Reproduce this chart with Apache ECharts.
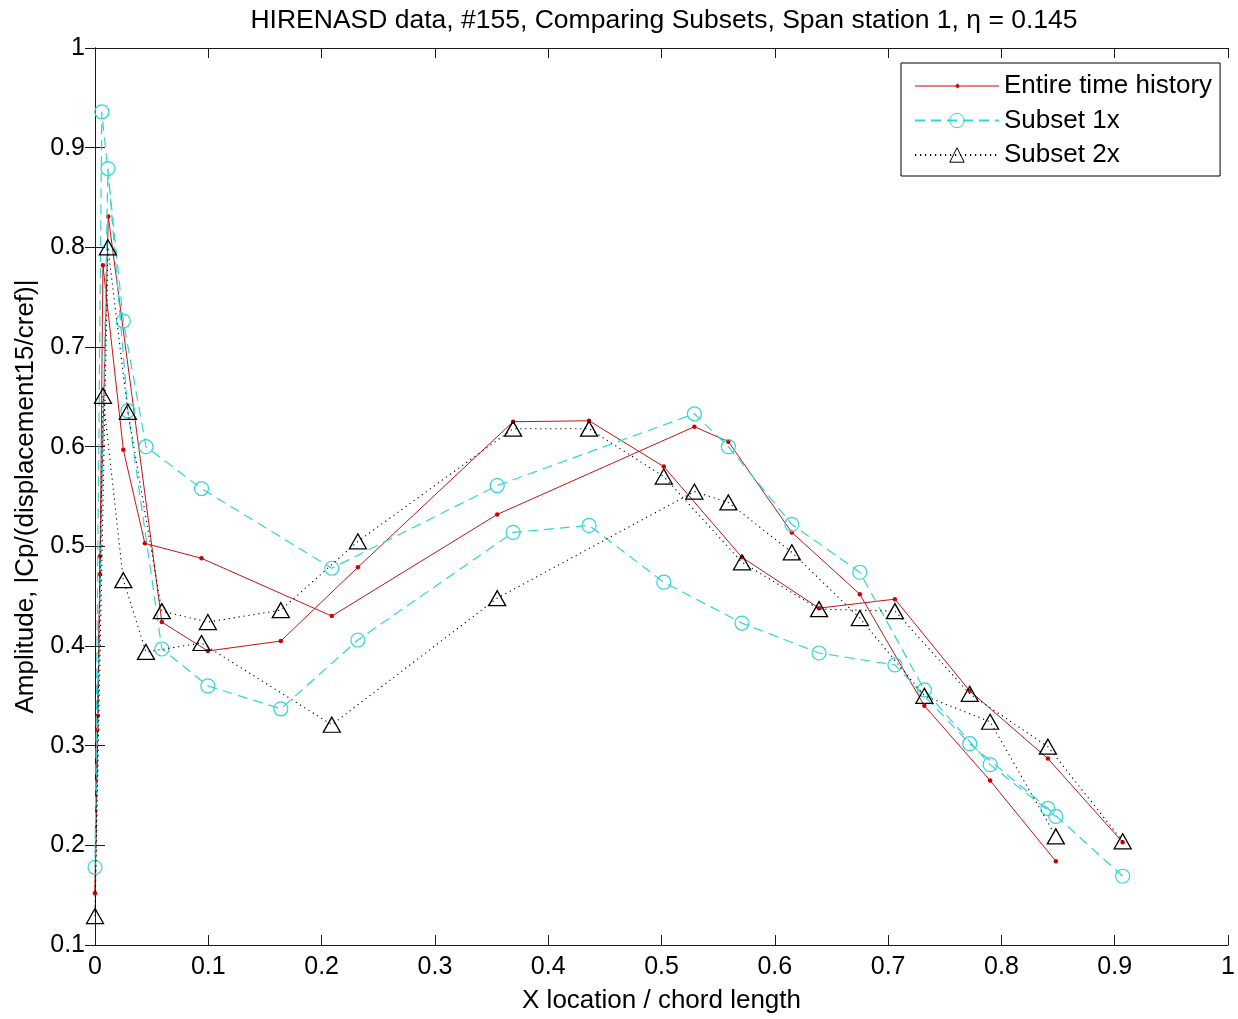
<!DOCTYPE html>
<html>
<head>
<meta charset="utf-8">
<title>HIRENASD data, #155, Comparing Subsets</title>
<script src="https://cdn.jsdelivr.net/npm/echarts@6/dist/echarts.min.js"></script>
<style>
  html, body { margin: 0; padding: 0; background: #fff; }
  #chart { width: 1238px; height: 1019px; }
</style>
</head>
<body>
<div id="chart"></div>
<script>
// Pressure-tap positions (x/c) and response amplitudes, listed along the airfoil
// contour: one surface from the trailing edge to the nose, then the other back out.
const entireX = [0.907, 0.841, 0.772, 0.706, 0.639, 0.571, 0.502, 0.436, 0.369, 0.232, 0.164, 0.0996, 0.059,
                 0.0117, 0.0044, 0.0025, 0, 0.002, 0.0044, 0.007,
                 0.025, 0.044, 0.094, 0.209, 0.355, 0.529, 0.559, 0.615, 0.675, 0.732, 0.790, 0.848];
const entireY = [0.203, 0.287, 0.355, 0.447, 0.438, 0.489, 0.580, 0.626, 0.625, 0.479, 0.405, 0.395, 0.424,
                 0.831, 0.490, 0.330, 0.152, 0.316, 0.472, 0.782,
                 0.597, 0.503, 0.488, 0.430, 0.532, 0.620, 0.605, 0.514, 0.452, 0.340, 0.265, 0.184];

const subset1X = [0.907, 0.841, 0.772, 0.706, 0.639, 0.571, 0.502, 0.436, 0.369, 0.232, 0.164, 0.0996, 0.059,
                  0.029, 0.0114, 0, 0.006,
                  0.025, 0.045, 0.094, 0.209, 0.355, 0.529, 0.559, 0.615, 0.675, 0.732, 0.790, 0.848];
const subset1Y = [0.169, 0.237, 0.302, 0.381, 0.393, 0.423, 0.464, 0.521, 0.514, 0.406, 0.337, 0.360, 0.397,
                  0.636, 0.879, 0.178, 0.936,
                  0.726, 0.600, 0.558, 0.478, 0.561, 0.633, 0.600, 0.522, 0.474, 0.356, 0.281, 0.229];

const subset2X = [0.907, 0.841, 0.772, 0.706, 0.639, 0.571, 0.502, 0.436, 0.369, 0.232, 0.164, 0.0996, 0.059,
                  0.029, 0.0114, 0, 0.007,
                  0.025, 0.045, 0.094, 0.209, 0.355, 0.529, 0.559, 0.615, 0.675, 0.732, 0.790, 0.848];
const subset2Y = [0.204, 0.299, 0.352, 0.435, 0.437, 0.484, 0.570, 0.618, 0.618, 0.505, 0.436, 0.424, 0.435,
                  0.635, 0.800, 0.129, 0.651,
                  0.466, 0.394, 0.403, 0.321, 0.448, 0.555, 0.544, 0.494, 0.428, 0.350, 0.324, 0.209];

const seriesNames = ['Entire time history', 'Subset 1x', 'Subset 2x'];
const titleText = 'HIRENASD data, #155, Comparing Subsets, Span station 1, \u03b7 = 0.145';
const xAxisName = 'X location / chord length';
const yAxisName = 'Amplitude, |Cp/(displacement15/cref)|';

const pairs = (xs, ys) => xs.map((x, i) => [x, ys[i]]);

const FONT = '"Liberation Sans", Arial, Helvetica, sans-serif';
const RED = '#d40000';
const CYAN = '#2fd6d6';
const AXIS = '#1a1a1a';

// Box-style axes: ticks pointing inward on all four sides.
function boxAxis(extra) {
  return Object.assign({
    type: 'value',
    axisLine: { show: true, lineStyle: { color: AXIS, width: 1 } },
    axisTick: { show: true, inside: true, length: 10, lineStyle: { color: AXIS, width: 1 } },
    splitLine: { show: false },
    axisLabel: { show: false }
  }, extra);
}

const tickLabel = { show: true, color: '#000', fontSize: 25, fontFamily: FONT, margin: 10 };

const chart = echarts.init(document.getElementById('chart'), null, { renderer: 'canvas' });

chart.setOption({
  animation: false,
  backgroundColor: '#fff',
  textStyle: { fontFamily: FONT },
  title: {
    text: titleText,
    left: 664,
    top: 7,
    textAlign: 'center',
    padding: 0,
    textStyle: { fontSize: 26.5, fontWeight: 'normal', color: '#000', fontFamily: FONT }
  },
  grid: { left: 95, right: 5, top: 48, bottom: 72, containLabel: false },
  xAxis: [
    boxAxis({
      min: 0, max: 1, interval: 0.1, position: 'bottom',
      axisLabel: tickLabel,
      name: xAxisName, nameLocation: 'middle', nameGap: 43,
      nameTextStyle: { fontSize: 26, color: '#000', fontFamily: FONT }
    }),
    boxAxis({ min: 0, max: 1, interval: 0.1, position: 'top' })
  ],
  yAxis: [
    boxAxis({
      min: 0.1, max: 1, interval: 0.1, position: 'left',
      axisLabel: tickLabel,
      name: yAxisName, nameLocation: 'middle', nameGap: 56,
      nameTextStyle: { fontSize: 26, color: '#000', fontFamily: FONT }
    }),
    boxAxis({ min: 0.1, max: 1, interval: 0.1, position: 'right' })
  ],
  legend: {
    orient: 'vertical',
    left: 901,
    top: 63,
    padding: [10, 8, 8, 13],
    itemGap: 8.5,
    itemWidth: 84,
    itemHeight: 18,
    backgroundColor: '#fff',
    borderColor: '#000',
    borderWidth: 1,
    borderRadius: 0,
    selectedMode: false,
    textStyle: { fontSize: 26, color: '#000', fontFamily: FONT },
    data: [
      {
        name: seriesNames[0],
        icon: 'path://M0,8.5H84V9.5H0Z M40,9L42.5,6.5L45,9L42.5,11.5Z',
        itemStyle: { color: RED, borderWidth: 0 }
      },
      { name: seriesNames[1], itemStyle: { borderWidth: 1, borderColor: CYAN } },
      { name: seriesNames[2], itemStyle: { borderWidth: 1, borderColor: '#000' } }
    ]
  },
  series: [
    {
      name: seriesNames[0],
      type: 'line',
      data: pairs(entireX, entireY),
      clip: false,
      symbol: 'circle',
      symbolSize: 4.5,
      itemStyle: { color: RED, borderWidth: 0 },
      lineStyle: { color: '#c41414', width: 1 },
      emphasis: { disabled: true },
      z: 2
    },
    {
      name: seriesNames[1],
      type: 'line',
      data: pairs(subset1X, subset1Y),
      clip: false,
      symbol: 'circle',
      symbolSize: 14,
      itemStyle: { color: 'rgba(0,0,0,0)', borderColor: CYAN, borderWidth: 1.2 },
      lineStyle: { color: CYAN, width: 1.2, type: [10, 6] },
      emphasis: { disabled: true },
      z: 3
    },
    {
      name: seriesNames[2],
      type: 'line',
      data: pairs(subset2X, subset2Y),
      clip: false,
      symbol: 'triangle',
      symbolSize: [17, 15],
      itemStyle: { color: 'rgba(0,0,0,0)', borderColor: '#000', borderWidth: 1.3 },
      lineStyle: { color: '#000', width: 1.1, type: [1.2, 3.8] },
      emphasis: { disabled: true },
      z: 4
    }
  ]
});
</script>
</body>
</html>
